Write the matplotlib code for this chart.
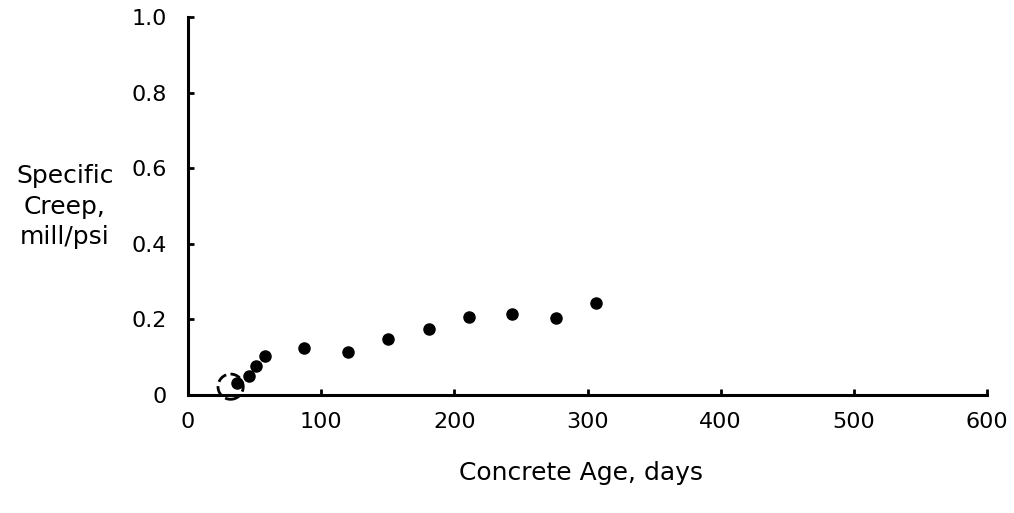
import matplotlib.pyplot as plt

# concrete age (days) and specific creep (millionths/psi)
age = [37, 46, 51, 58, 87, 120, 150, 181, 211, 243, 276, 306]
creep = [0.033, 0.049, 0.076, 0.102, 0.124, 0.115, 0.147, 0.174, 0.206, 0.213, 0.203, 0.244]

# the dashed open circle near the origin
open_age = [32]
open_creep = [0.022]

xticks = [0, 100, 200, 300, 400, 500, 600]
yticks = [0, 0.2, 0.4, 0.6, 0.8, 1.0]
ytick_labels = ['0', '0.2', '0.4', '0.6', '0.8', '1.0']

plt.rcParams['font.family'] = 'DejaVu Sans'

fig = plt.figure(figsize=(10.14, 5.13), dpi=100)
ax = fig.add_axes([0.1854, 0.23, 0.788, 0.737])

ax.scatter(age, creep, s=64, color='black', zorder=3, clip_on=False)
ax.scatter(open_age, open_creep, s=330, facecolors='none', edgecolors='black',
           linewidths=2, linestyles='--', zorder=3, clip_on=False)

ax.set_xlim(0, 600)
ax.set_ylim(0, 1.0)
ax.set_xticks(xticks)
ax.set_xticklabels([str(t) for t in xticks])
ax.set_yticks(yticks)
ax.set_yticklabels(ytick_labels)

for s in ['top', 'right']:
    ax.spines[s].set_visible(False)
for s in ['left', 'bottom']:
    ax.spines[s].set_linewidth(2.2)

ax.tick_params(axis='both', direction='in', length=4, width=2, labelsize=16)
ax.tick_params(axis='y', pad=15)
ax.tick_params(axis='x', pad=12)

fig.text(0.5727, 0.078, 'Concrete Age, days', ha='center', va='center', fontsize=18)
fig.text(0.064, 0.597, 'Specific\nCreep,\nmill/psi', ha='center', va='center',
         fontsize=18, linespacing=1.35)

fig.savefig('out.png', dpi=100)
